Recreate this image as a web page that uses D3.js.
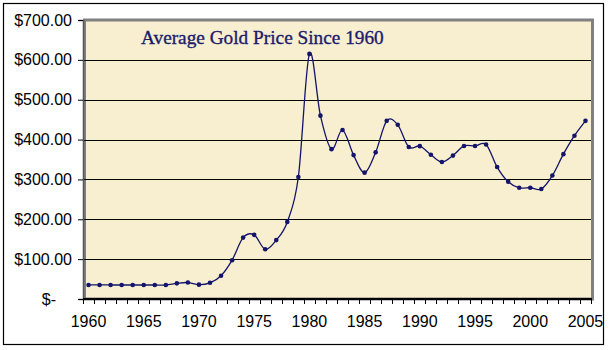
<!DOCTYPE html>
<html>
<head>
<meta charset="utf-8">
<script src="https://cdn.jsdelivr.net/npm/d3@7"></script>
<style>
    body { margin: 0; background: #fff; }
    svg { display: block; }
</style>
</head>
<body>
<div id="chart"></div>
<script>
// Average gold price per year (USD / oz)
const years = d3.range(1960, 2006);
const prices = [
    35.3, 35.3, 35.2, 35.1, 35.1, 35.1, 35.1, 35.0, 39.3, 41.3,
    36.0, 40.6, 58.4, 97.4, 154.0, 160.9, 124.7, 147.8, 193.4, 306.0,
    615.0, 460.0, 376.0, 424.0, 361.0, 317.0, 368.0, 447.0, 437.0, 381.4,
    383.5, 362.1, 343.8, 359.8, 384.0, 383.8, 387.8, 331.0, 294.2, 279.0,
    279.1, 276.0, 309.7, 363.4, 409.7, 447.0
];
const yTicks = [0, 100, 200, 300, 400, 500, 600, 700];
const xLabels = [1960, 1965, 1970, 1975, 1980, 1985, 1990, 1995, 2000, 2005];
const title = 'Average Gold Price Since 1960';

const width = 610, height = 350;
const plot = { left: 83, right: 591, top: 20, bottom: 299 };

const svg = d3.select('#chart')
    .append('svg')
    .attr('width', width)
    .attr('height', height);

// outer frame
svg.append('rect')
    .attr('x', 3.5).attr('y', 3.5)
    .attr('width', 600).attr('height', 341)
    .attr('fill', '#fff')
    .attr('stroke', '#000')
    .attr('stroke-width', 1.2);

const x = d3.scaleBand()
    .domain(years)
    .range([plot.left, plot.right]);

const y = d3.scaleLinear()
    .domain([0, 700])
    .range([plot.bottom, plot.top]);

// plot area background
svg.append('rect')
    .attr('x', plot.left + 1.5)
    .attr('y', plot.top)
    .attr('width', plot.right - plot.left)
    .attr('height', plot.bottom - plot.top)
    .attr('fill', '#f7efd0')
    .attr('stroke', '#808080')
    .attr('stroke-width', 3);

// grid lines
svg.append('g')
    .selectAll('line')
    .data(yTicks.filter(d => d > 0 && d < 700))
    .join('line')
    .attr('x1', plot.left)
    .attr('x2', plot.right)
    .attr('y1', d => Math.round(y(d)) + 0.5)
    .attr('y2', d => Math.round(y(d)) + 0.5)
    .attr('stroke', '#000')
    .attr('stroke-width', 1.2);

// y axis
const yAxis = svg.append('g')
    .attr('transform', `translate(${plot.left},0)`)
    .call(d3.axisLeft(y)
        .tickValues(yTicks)
        .tickSize(5)
        .tickPadding(6)
        .tickFormat(d => d === 0 ? '$-' : '$' + d3.format('.2f')(d)));
yAxis.select('.domain').attr('stroke', '#555').attr('stroke-width', 1.5);
yAxis.selectAll('.tick line').attr('stroke', '#000');
yAxis.selectAll('.tick text')
    .attr('font-family', 'Liberation Sans, Arial, sans-serif')
    .attr('font-size', 16)
    .attr('fill', '#000')
    .attr('dx', d => d === 0 ? -16 : 0);

// x axis: ticks between categories, labels every 5 years
const xAxis = svg.append('g')
    .attr('transform', `translate(0,${plot.bottom})`);
xAxis.append('line')
    .attr('x1', plot.left).attr('x2', plot.right + 1)
    .attr('stroke', '#000')
    .attr('stroke-width', 2);
xAxis.selectAll('.xtick')
    .data(years.concat([2006]))
    .join('line')
    .attr('class', 'xtick')
    .attr('x1', d => Math.round(d === 2006 ? plot.right : x(d)) + 0.5)
    .attr('x2', d => Math.round(d === 2006 ? plot.right : x(d)) + 0.5)
    .attr('y1', 0)
    .attr('y2', 5)
    .attr('stroke', '#000');
xAxis.selectAll('text')
    .data(xLabels)
    .join('text')
    .attr('x', d => x(d) + x.bandwidth() / 2)
    .attr('y', 28)
    .attr('text-anchor', 'middle')
    .attr('font-family', 'Liberation Sans, Arial, sans-serif')
    .attr('font-size', 16)
    .attr('fill', '#000')
    .text(d => d);

// series
const cx = d => x(d) + x.bandwidth() / 2;
const line = d3.line()
    .x((d, i) => cx(years[i]))
    .y(d => y(d))
    .curve(d3.curveCardinal.tension(0));

svg.append('path')
    .datum(prices)
    .attr('fill', 'none')
    .attr('stroke', '#14146a')
    .attr('stroke-width', 1.3)
    .attr('d', line);

svg.append('g')
    .selectAll('circle')
    .data(prices)
    .join('circle')
    .attr('cx', (d, i) => cx(years[i]))
    .attr('cy', d => y(d))
    .attr('r', 2.3)
    .attr('fill', '#14146a');

// title
svg.append('text')
    .attr('x', 141)
    .attr('y', 44)
    .attr('font-family', 'Liberation Serif, Times New Roman, serif')
    .attr('font-size', 19.3)
    .attr('fill', '#1c1c6c')
    .attr('stroke', '#1c1c6c')
    .attr('stroke-width', 0.35)
    .text(title);
</script>
</body>
</html>
